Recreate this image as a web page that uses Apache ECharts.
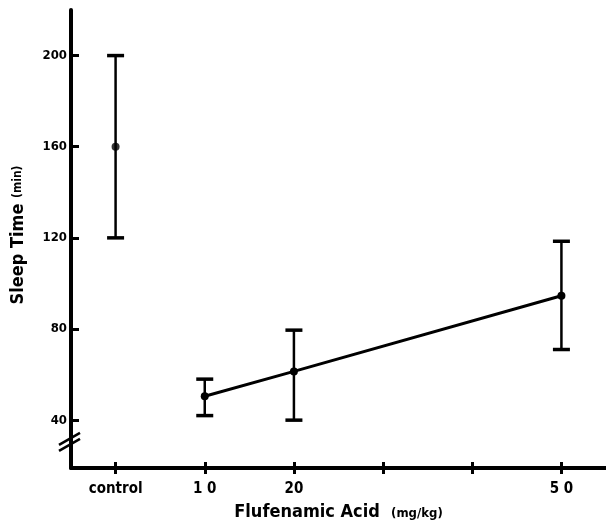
<!DOCTYPE html>
<html>
<head>
<meta charset="utf-8">
<script src="https://cdn.jsdelivr.net/npm/echarts@6/dist/echarts.min.js"></script>
<style>html,body{margin:0;padding:0;background:#fff;}#c{width:606px;height:527px;}</style>
</head>
<body>
<div id="c"></div>
<script>
// Data
const xTickValues = [0, 10, 20, 30, 40, 50];
const xLabelValues = [0, 10, 20, 50];
const xLabelText = {0: 'control', 10: '1 0', 20: '20', 50: '5 0'};
const yTickValues = [40, 80, 120, 160, 200];
const controlPoint = [[0, 160]];
const controlErr = [[0, 120, 200]];
const doses = [10, 20, 50];
const doseMeans = [50.5, 61.4, 94.6];
const doseLow = [42, 40, 71];
const doseHigh = [58, 79.5, 118.5];

const FONT = '"DejaVu Sans Condensed", "Liberation Sans Narrow", sans-serif';

const doseData = doses.map((d, i) => [d, doseMeans[i]]);
const errData = controlErr.concat(doses.map((d, i) => [d, doseLow[i], doseHigh[i]]));

const chart = echarts.init(document.getElementById('c'), null, {renderer: 'canvas'});

function renderErr(params, api) {
  const x = api.value(0);
  const lo = api.coord([x, api.value(1)]);
  const hi = api.coord([x, api.value(2)]);
  const hw = 8.5;
  const st = {stroke: '#000', lineWidth: 2.5};
  const cap = {stroke: '#000', lineWidth: 3.5};
  return {
    type: 'group',
    children: [
      {type: 'line', shape: {x1: lo[0], y1: lo[1], x2: hi[0], y2: hi[1]}, style: st},
      {type: 'line', shape: {x1: hi[0] - hw, y1: hi[1], x2: hi[0] + hw, y2: hi[1]}, style: cap},
      {type: 'line', shape: {x1: lo[0] - hw, y1: lo[1], x2: lo[0] + hw, y2: lo[1]}, style: cap}
    ]
  };
}

chart.setOption({
  animation: false,
  backgroundColor: '#fff',
  grid: {left: 71, right: 0, top: 10, bottom: 59, containLabel: false, outerBoundsMode: 'none'},
  xAxis: [{
    type: 'value', min: -5, max: 55,
    axisLine: {show: true, onZero: false, lineStyle: {color: '#000', width: 4}},
    axisTick: {show: true, length: 6, customValues: xTickValues, lineStyle: {color: '#000', width: 3}},
    axisLabel: {show: true, customValues: xLabelValues, margin: 14,
      formatter: v => xLabelText[v] !== undefined ? xLabelText[v] : '',
      color: '#000', fontFamily: FONT, fontWeight: 'bold', fontSize: 15},
    splitLine: {show: false},
    name: 'Flufenamic Acid  {s|(mg/kg)}',
    nameLocation: 'middle', nameGap: 35,
    nameTextStyle: {color: '#000', fontFamily: FONT, fontWeight: 'bold', fontSize: 18,
      rich: {s: {fontFamily: FONT, fontWeight: 'bold', fontSize: 13, color: '#000', padding: [3, 0, 0, 0]}}}
  }, {
    type: 'value', min: -5, max: 55, position: 'bottom',
    axisLine: {show: false},
    axisTick: {show: true, inside: true, length: 6, customValues: xTickValues, lineStyle: {color: '#000', width: 3}},
    axisLabel: {show: false}, splitLine: {show: false}
  }],
  yAxis: {
    type: 'value', min: 19, max: 220,
    axisLine: {show: true, onZero: false, lineStyle: {color: '#000', width: 4}},
    axisTick: {show: true, inside: true, length: 8, customValues: yTickValues, lineStyle: {color: '#000', width: 3}},
    axisLabel: {show: true, customValues: yTickValues, margin: 4, color: '#000', fontFamily: FONT, fontWeight: 'bold', fontSize: 13},
    splitLine: {show: false},
    name: 'Sleep Time {s|(min)}',
    nameLocation: 'middle', nameRotate: 90, nameGap: 44,
    nameTextStyle: {color: '#000', fontFamily: FONT, fontWeight: 'bold', fontSize: 18, padding: [0, 0, 0, 8],
      rich: {s: {fontFamily: FONT, fontWeight: 'bold', fontSize: 12, color: '#000'}}}
  },
  series: [
    {type: 'custom', renderItem: renderErr, data: errData, z: 2, encode: {x: 0, y: [1, 2]}},
    {type: 'line', data: doseData, symbol: 'circle', symbolSize: 8, z: 3,
      lineStyle: {color: '#000', width: 3}, itemStyle: {color: '#000'}},
    {type: 'scatter', data: controlPoint, symbol: 'circle', symbolSize: 8, z: 3, itemStyle: {color: '#000'}}
  ]
});

// axis break marks (decoration placed through the axis scale)
const bx = chart.convertToPixel({xAxisIndex: 0}, -5);
const by = chart.convertToPixel({yAxisIndex: 0}, 30);
chart.setOption({
  graphic: [
    {type: 'line', shape: {x1: bx - 12, y1: by + 2, x2: bx + 9, y2: by - 10}, style: {stroke: '#000', lineWidth: 2.5}},
    {type: 'line', shape: {x1: bx - 12, y1: by + 8, x2: bx + 9, y2: by - 4}, style: {stroke: '#000', lineWidth: 2.5}}
  ]
});
</script>
</body>
</html>
